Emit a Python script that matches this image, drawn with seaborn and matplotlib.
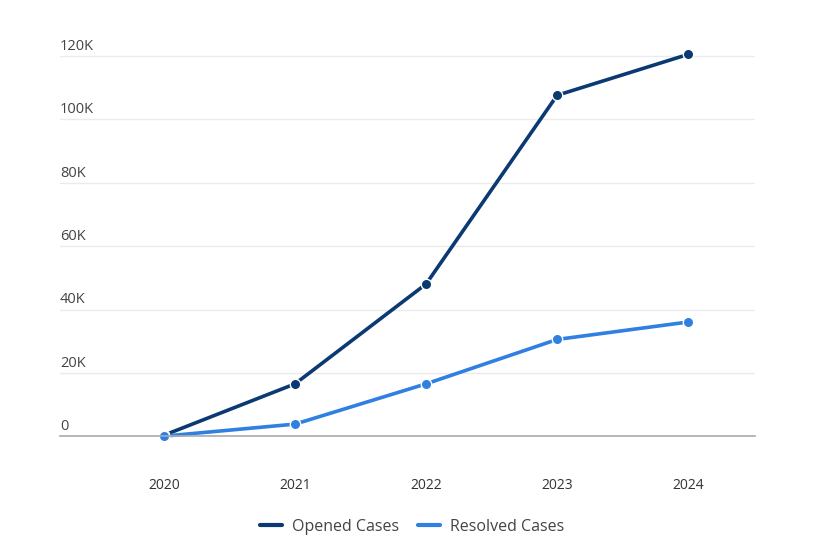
import pandas as pd
import matplotlib
matplotlib.use("Agg")
import matplotlib.pyplot as plt
import matplotlib.transforms as mtransforms
import seaborn as sns

# ====== DATA ======
YEARS = ["2020", "2021", "2022", "2023", "2024"]
OPENED = [400, 16600, 48100, 107600, 120500]
RESOLVED = [100, 3900, 16600, 30600, 36100]
SERIES = ["Opened Cases", "Resolved Cases"]
COLORS = ["#0b3a73", "#2f80e0"]
Y_TICKS = [0, 20000, 40000, 60000, 80000, 100000, 120000]
Y_LABELS = ["0", "20K", "40K", "60K", "80K", "100K", "120K"]
# ==================


def build_frame():
    rows = []
    for name, values in zip(SERIES, [OPENED, RESOLVED]):
        for i, (year, v) in enumerate(zip(YEARS, values)):
            rows.append({"idx": i, "Year": year, "Series": name, "Value": v})
    return pd.DataFrame(rows)


def main():
    sns.set_theme(style="white")
    plt.rcParams["font.family"] = ["Open Sans", "DejaVu Sans"]

    df = build_frame()
    fig = plt.figure(figsize=(8.15, 5.42), dpi=100)
    ax = fig.add_axes([60 / 815, 0.1947, 695 / 815, 0.926 - 0.1947])

    sns.lineplot(
        data=df, x="idx", y="Value", hue="Series", palette=COLORS,
        marker="o", markersize=7.5, markeredgecolor="white", markeredgewidth=1,
        linewidth=2.6, ax=ax, legend=True, clip_on=False,
    )

    ax.set_xlim(-0.794, 4.51)
    ax.set_ylim(0, 125000)
    ax.set_yticks(Y_TICKS)
    ax.yaxis.grid(True, color="#ebebeb", linewidth=1)
    ax.set_yticklabels([])
    ax.tick_params(axis="y", length=0)
    ax.set_xticks(range(len(YEARS)))
    ax.set_xticklabels(YEARS, fontsize=10, color="#333333")
    ax.tick_params(axis="x", length=0, pad=30)
    ax.set_xlabel("")
    ax.set_ylabel("")
    for side in ["top", "right", "left"]:
        ax.spines[side].set_visible(False)
    ax.spines["bottom"].set_color("#aaaaaa")
    ax.spines["bottom"].set_linewidth(1.2)
    ax.set_axisbelow(True)

    # y labels sit above the grid lines, at the left edge
    trans = mtransforms.blended_transform_factory(ax.transAxes, ax.transData)
    for val, lab in zip(Y_TICKS, Y_LABELS):
        ax.text(0, val + 700, lab, transform=trans, ha="left", va="bottom",
                fontsize=10.5, color="#444444")

    handles, labels = ax.get_legend_handles_labels()
    ax.get_legend().remove()
    for h in handles:
        h.set_marker("")
        h.set_linewidth(3)
    fig.legend(handles, labels, loc="center", bbox_to_anchor=(412 / 815, 1 - 527 / 542),
               ncol=2, frameon=False, fontsize=11.5, handlelength=1.4,
               columnspacing=1.2, handletextpad=0.6, labelcolor="#444444")

    fig.savefig("out.png", dpi=100)
    plt.close(fig)


if __name__ == "__main__":
    main()
